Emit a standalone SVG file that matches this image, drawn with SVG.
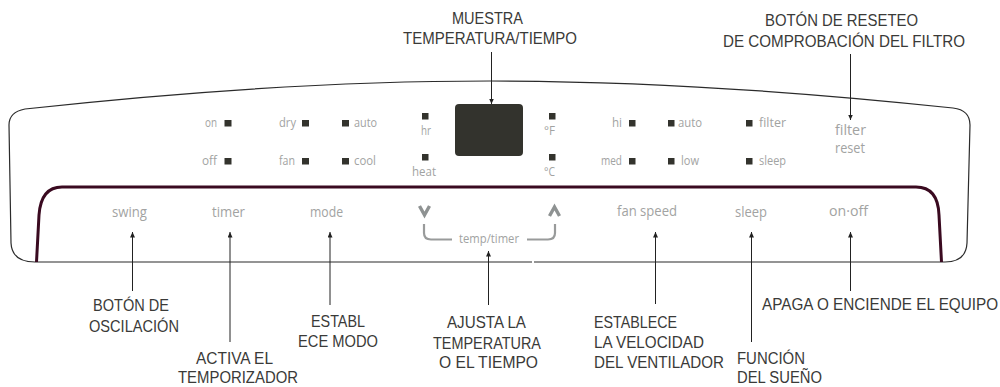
<svg xmlns="http://www.w3.org/2000/svg" width="1000" height="387" viewBox="0 0 1000 387">
<style>
.cap{font-family:"Liberation Sans Narrow","Liberation Sans",sans-serif;font-size:17px;fill:#3a3a38}
.g{font-family:"Open Sans","Noto Sans",sans-serif;font-size:13px;fill:#a2a3a2}
.b{font-family:"Open Sans","Noto Sans",sans-serif;font-size:15px;fill:#a2a3a2}
.led{fill:#33332d}
.con{stroke:#222;stroke-width:1;fill:none;marker-end:url(#ah)}
</style>
<defs>
<marker id="ah" markerUnits="userSpaceOnUse" markerWidth="6" markerHeight="7" refX="5.5" refY="2.5" orient="auto"><path d="M0 0L5.5 2.5L0 5Z" fill="#222"/></marker>
</defs>
<rect width="1000" height="387" fill="#fff"/>
<g id="panel">
<path d="M35 262H945Q966 262 967 243L970 125Q970 110 953 108Q700 81 490 81Q280 81 25 109Q9 112 9 125L11 243Q12 262 35 262Z" fill="none" stroke="#2b2b2b" stroke-width="1.2"/>
<path d="M36.500 262L39 215Q41 187 62 187H916Q938 187 939 215L941.500 262" fill="none" stroke="#3a0a20" stroke-width="3"/>
<rect x="532" y="260" width="2" height="4" fill="#fff"/>
</g>
<g id="display"><rect x="455" y="104" width="68" height="52" rx="4" fill="#33332d"/></g>
<g id="indicators">
<rect class="led" x="224.500" y="120" width="7" height="6.500"/><text class="g" x="205" y="127" textLength="12" lengthAdjust="spacingAndGlyphs">on</text>
<rect class="led" x="224.500" y="158" width="7" height="6.500"/><text class="g" x="202" y="165" textLength="15" lengthAdjust="spacingAndGlyphs">off</text>
<rect class="led" x="302" y="120" width="7" height="6.500"/><text class="g" x="279" y="127" textLength="17" lengthAdjust="spacingAndGlyphs">dry</text>
<rect class="led" x="302" y="158" width="7" height="6.500"/><text class="g" x="279" y="165" textLength="16" lengthAdjust="spacingAndGlyphs">fan</text>
<rect class="led" x="342" y="120" width="7" height="6.500"/><text class="g" x="354" y="127" textLength="23" lengthAdjust="spacingAndGlyphs">auto</text>
<rect class="led" x="342" y="158" width="7" height="6.500"/><text class="g" x="354" y="165" textLength="22" lengthAdjust="spacingAndGlyphs">cool</text>
<rect class="led" x="422" y="113" width="6.500" height="6.500"/><text class="g" x="421" y="135" textLength="10" lengthAdjust="spacingAndGlyphs">hr</text>
<rect class="led" x="422" y="154" width="6.500" height="6.500"/><text class="g" x="412" y="176" textLength="24" lengthAdjust="spacingAndGlyphs">heat</text>
<rect class="led" x="549" y="113" width="6.500" height="6.500"/><text class="g" x="544" y="135" textLength="11" lengthAdjust="spacingAndGlyphs">°F</text>
<rect class="led" x="549" y="154" width="6.500" height="6.500"/><text class="g" x="544" y="176" textLength="11" lengthAdjust="spacingAndGlyphs">°C</text>
<rect class="led" x="629" y="120" width="6.500" height="6.500"/><text class="g" x="612" y="127" textLength="10" lengthAdjust="spacingAndGlyphs">hi</text>
<rect class="led" x="629" y="158" width="6.500" height="6.500"/><text class="g" x="601" y="165" textLength="21" lengthAdjust="spacingAndGlyphs">med</text>
<rect class="led" x="668" y="120" width="6.500" height="6.500"/><text class="g" x="678" y="127" textLength="24" lengthAdjust="spacingAndGlyphs">auto</text>
<rect class="led" x="668" y="158" width="6.500" height="6.500"/><text class="g" x="681" y="165" textLength="18" lengthAdjust="spacingAndGlyphs">low</text>
<rect class="led" x="746" y="120" width="6.500" height="6.500"/><text class="g" x="759" y="127" textLength="27" lengthAdjust="spacingAndGlyphs">filter</text>
<rect class="led" x="746" y="158" width="6.500" height="6.500"/><text class="g" x="759" y="165" textLength="27" lengthAdjust="spacingAndGlyphs">sleep</text>
</g>
<g id="buttons">
<text class="b" x="835" y="135" textLength="31" lengthAdjust="spacingAndGlyphs">filter</text>
<text class="b" x="835" y="153" textLength="30" lengthAdjust="spacingAndGlyphs">reset</text>
<text class="b" x="112" y="217" textLength="35" lengthAdjust="spacingAndGlyphs">swing</text>
<text class="b" x="212" y="217" textLength="33" lengthAdjust="spacingAndGlyphs">timer</text>
<text class="b" x="310" y="217" textLength="33" lengthAdjust="spacingAndGlyphs">mode</text>
<text class="b" x="617" y="216" textLength="60" lengthAdjust="spacingAndGlyphs">fan speed</text>
<text class="b" x="735" y="217" textLength="32" lengthAdjust="spacingAndGlyphs">sleep</text>
<text class="b" x="829" y="216" textLength="39" lengthAdjust="spacingAndGlyphs">on·off</text>
<text class="g" x="459" y="243" textLength="60" lengthAdjust="spacingAndGlyphs">temp/timer</text>
<path d="M419.500 206L424.500 215L429.500 206M549.500 216L554.500 207L559.500 216" fill="none" stroke="#8e9292" stroke-width="3.400"/>
<path d="M424 224V233Q424 239.500 431 239.500H452M555 224V233Q555 239.500 548 239.500H527" fill="none" stroke="#999b9b" stroke-width="2.200"/>
</g>
<g id="connectors">
<line class="con" x1="132.500" y1="291" x2="132.500" y2="232"/>
<line class="con" x1="230" y1="342" x2="230" y2="232"/>
<line class="con" x1="330" y1="305" x2="330" y2="232"/>
<line class="con" x1="488.500" y1="305" x2="488.500" y2="251"/>
<line class="con" x1="655.500" y1="304" x2="655.500" y2="232"/>
<line class="con" x1="751.500" y1="342" x2="751.500" y2="232"/>
<line class="con" x1="850.500" y1="291" x2="850.500" y2="232"/>
<line class="con" x1="491.500" y1="52" x2="491.500" y2="104"/>
<line class="con" x1="850.500" y1="54" x2="850.500" y2="120"/>
</g>
<g id="captions">
<text class="cap" x="452" y="24" textLength="71" lengthAdjust="spacingAndGlyphs">MUESTRA</text>
<text class="cap" x="403" y="44" textLength="174" lengthAdjust="spacingAndGlyphs">TEMPERATURA/TIEMPO</text>
<text class="cap" x="765" y="26" textLength="153" lengthAdjust="spacingAndGlyphs">BOTÓN DE RESETEO</text>
<text class="cap" x="723" y="47" textLength="242" lengthAdjust="spacingAndGlyphs">DE COMPROBACIÓN DEL FILTRO</text>
<text class="cap" x="93" y="311" textLength="76" lengthAdjust="spacingAndGlyphs">BOTÓN DE</text>
<text class="cap" x="89" y="332" textLength="90" lengthAdjust="spacingAndGlyphs">OSCILACIÓN</text>
<text class="cap" x="196" y="364" textLength="77" lengthAdjust="spacingAndGlyphs">ACTIVA EL</text>
<text class="cap" x="178" y="383" textLength="120" lengthAdjust="spacingAndGlyphs">TEMPORIZADOR</text>
<text class="cap" x="311" y="327" textLength="54" lengthAdjust="spacingAndGlyphs">ESTABL</text>
<text class="cap" x="298" y="347" textLength="80" lengthAdjust="spacingAndGlyphs">ECE MODO</text>
<text class="cap" x="447" y="328" textLength="79" lengthAdjust="spacingAndGlyphs">AJUSTA LA</text>
<text class="cap" x="433" y="349" textLength="108" lengthAdjust="spacingAndGlyphs">TEMPERATURA</text>
<text class="cap" x="439" y="368" textLength="99" lengthAdjust="spacingAndGlyphs">O EL TIEMPO</text>
<text class="cap" x="594" y="328" textLength="83" lengthAdjust="spacingAndGlyphs">ESTABLECE</text>
<text class="cap" x="594" y="348" textLength="110" lengthAdjust="spacingAndGlyphs">LA VELOCIDAD</text>
<text class="cap" x="594" y="368" textLength="130" lengthAdjust="spacingAndGlyphs">DEL VENTILADOR</text>
<text class="cap" x="737" y="364" textLength="68" lengthAdjust="spacingAndGlyphs" style="font-size:16px">FUNCIÓN</text>
<text class="cap" x="737" y="383" textLength="85" lengthAdjust="spacingAndGlyphs" style="font-size:16px">DEL SUEÑO</text>
<text class="cap" transform="translate(762 310) scale(.9 1)" style="font-family:'Liberation Sans',sans-serif">APAGA O ENCIENDE EL EQUIPO</text>
</g>
</svg>
